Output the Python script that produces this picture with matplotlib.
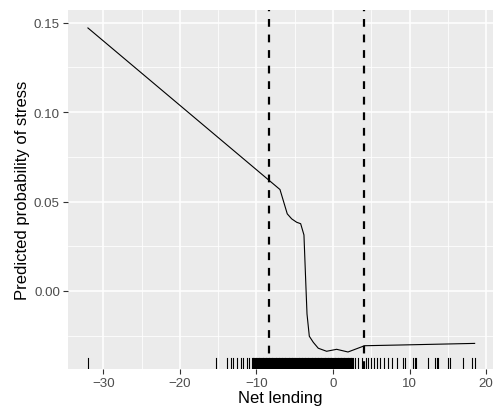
import matplotlib.pyplot as plt

# partial dependence curve (net lending vs predicted probability of stress)
curve_x = [-32.0, -6.92, -5.97, -5.39, -4.74, -4.22, -3.79, -3.52, -3.39, -3.09,
           -2.57, -1.92, -0.83, 0.48, 1.96, 4.13, 8.75, 18.5]
curve_y = [0.147, 0.0567, 0.0431, 0.0403, 0.0384, 0.0376, 0.0313, 0.0011, -0.0129, -0.0253,
           -0.0287, -0.032, -0.0337, -0.0326, -0.0341, -0.0306, -0.0302, -0.0293]

# threshold lines
vlines = [-8.3, 4.1]

# observed net lending values (rug)
rug_sparse = [-32.0, -15.27, -13.8, -13.36, -13.0, -12.5, -12.05, -11.79, -11.27, -10.93,
              2.87, 3.26, 3.75, 4.31, 4.57, 4.92, 5.35, 5.78, 6.14, 6.66, 7.18, 7.66, 8.32,
              9.1, 9.44, 10.4, 10.67, 10.84, 12.44, 13.32, 13.54, 13.75, 15.05, 15.27,
              17.0, 18.1, 18.54]
rug_dense = [-10.6, -10.5, -10.4, -10.3, -10.2, -10.1, -10.0, -9.9, -9.8, -9.7, -9.6, -9.5,
             -9.4, -9.3, -9.2, -9.1, -9.0, -8.9, -8.8, -8.7, -8.6, -8.5, -8.4, -8.3, -8.2,
             -8.1, -8.0, -7.9, -7.8, -7.7, -7.6, -7.5, -7.4, -7.3, -7.2, -7.1, -7.0, -6.9,
             -6.8, -6.7, -6.6, -6.5, -6.4, -6.3, -6.2, -6.1, -6.0, -5.9, -5.8, -5.7, -5.6,
             -5.5, -5.4, -5.3, -5.2, -5.1, -5.0, -4.9, -4.8, -4.7, -4.6, -4.5, -4.4, -4.3,
             -4.2, -4.1, -4.0, -3.9, -3.8, -3.7, -3.6, -3.5, -3.4, -3.3, -3.2, -3.1, -3.0,
             -2.9, -2.8, -2.7, -2.6, -2.5, -2.4, -2.3, -2.2, -2.1, -2.0, -1.9, -1.8, -1.7,
             -1.6, -1.5, -1.4, -1.3, -1.2, -1.1, -1.0, -0.9, -0.8, -0.7, -0.6, -0.5, -0.4,
             -0.3, -0.2, -0.1, 0.0, 0.1, 0.2, 0.3, 0.4, 0.5, 0.6, 0.7, 0.8, 0.9, 1.0, 1.1,
             1.2, 1.3, 1.4, 1.5, 1.6, 1.7, 1.8, 1.9, 2.0, 2.1, 2.2, 2.3, 2.4, 2.5, 2.6]

xticks = [-30, -20, -10, 0, 10, 20]
yticks = [0.00, 0.05, 0.10, 0.15]

plt.rcParams['font.family'] = ['Liberation Sans', 'DejaVu Sans']

fig = plt.figure(figsize=(4.94, 4.10), dpi=100)
ax = fig.add_axes([0.1377, 0.0976, 0.8603, 0.8754])
ax.set_facecolor('#EBEBEB')
for s in ax.spines.values():
    s.set_visible(False)

ax.set_xlim(-34.6, 20.9)
ax.set_ylim(-0.0436, 0.157)

# grid
for v in [-25, -15, -5, 5, 15]:
    ax.axvline(v, color='white', lw=0.55, zorder=0)
for v in [-0.025, 0.025, 0.075, 0.125]:
    ax.axhline(v, color='white', lw=0.55, zorder=0)
for v in xticks:
    ax.axvline(v, color='white', lw=1.1, zorder=0)
for v in yticks:
    ax.axhline(v, color='white', lw=1.1, zorder=0)

ax.plot(curve_x, curve_y, color='black', lw=0.8, zorder=3)

for v in vlines:
    ax.axvline(v, color='black', lw=1.6, dashes=(3.5, 3.5), zorder=2)

rug = rug_sparse + rug_dense
for v in rug:
    ax.axvline(v, ymin=0, ymax=0.03, color='black', lw=0.8, zorder=2)

ax.set_xticks(xticks)
ax.set_xticklabels(['\u221230', '\u221220', '\u221210', '0', '10', '20'])
ax.set_yticks(yticks)
ax.set_yticklabels(['0.00', '0.05', '0.10', '0.15'])
ax.tick_params(colors='#333333', labelcolor='#4D4D4D', labelsize=9.6, length=3.8, width=0.8, pad=2)

ax.set_xlabel('Net lending', fontsize=12, labelpad=1)
ax.set_ylabel('Predicted probability of stress', fontsize=12)
ax.yaxis.set_label_coords(-0.09, 0.5)

fig.savefig('out.png', dpi=100)
